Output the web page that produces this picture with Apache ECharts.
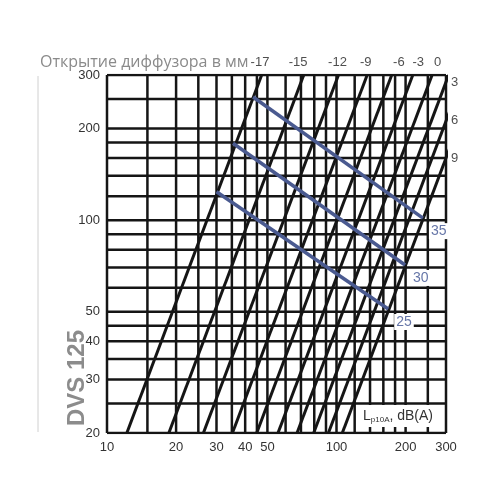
<!DOCTYPE html>
<html>
<head>
<meta charset="utf-8">
<script src="https://cdn.jsdelivr.net/npm/echarts@6/dist/echarts.min.js"></script>
<style>
  html, body { margin: 0; background: #fff; }
  #dvs-chart { width: 500px; height: 500px; }
</style>
</head>
<body>
<div id="dvs-chart"></div>
<script>
// оси (лог. шкала)
const xTicks = [10, 20, 30, 40, 50, 100, 200, 300]
const yTicks = [20, 30, 40, 50, 100, 200, 300]
const gridX = [10, 15, 20, 25, 30, 35, 40, 45, 50, 60, 70, 80, 90, 100, 120, 140, 160, 180, 200, 250, 300]
const gridY = [20, 25, 30, 35, 40, 45, 50, 60, 70, 80, 90, 100, 120, 140, 160, 180, 200, 250, 300]

// открытие диффузора, мм: расход при 20 Па и при 300 Па
const openings = ['-17', '-15', '-12', '-9', '-6', '-3', '0', '3', '6', '9']
const flowAtBottom = [12.2, 18.6, 26.3, 35.2, 44.9, 55.6, 67.3, 79.5, 92.2, 106]
const flowAtTop = [47.2, 72, 102, 136, 174, 215, 261, 308, 357, 411]

// подписи открытия: сверху (x при 300 Па) и справа (y при 300 м3/ч)
const topLabels = ['-17', '-15', '-12', '-9', '-6', '-3', '0']
const topLabelX = [46.4, 68, 101, 134, 187, 227, 276]
const rightLabels = ['3', '6', '9']
const rightLabelY = [284, 212, 160]

// шум Lp10A
const noiseLevels = ['25', '30', '35']
const noiseStart = [[30.0, 124], [35.4, 179], [43.3, 254]]
const noiseEnd = [[168, 51.1], [199, 71.3], [238, 101.6]]

const chart = echarts.init(document.getElementById('dvs-chart'))
const black = '#151515'
const font = 'Liberation Sans, Arial, sans-serif'

const series = []
gridX.forEach(v => {
  series.push({
    type: 'line', silent: true, symbol: 'none', z: 2,
    data: [[v, 20], [v, 300]],
    lineStyle: { color: black, width: 2.5 }
  })
})
gridY.forEach(v => {
  series.push({
    type: 'line', silent: true, symbol: 'none', z: 2,
    data: [[10, v], [300, v]],
    lineStyle: { color: black, width: 2.5 }
  })
})
openings.forEach((name, i) => {
  series.push({
    name: name, type: 'line', silent: true, symbol: 'none', z: 3, clip: true,
    data: [[flowAtBottom[i], 20], [flowAtTop[i], 300]],
    lineStyle: { color: black, width: 3 }
  })
})
noiseLevels.forEach((name, i) => {
  series.push({
    name: name, type: 'line', silent: true, symbol: 'none', z: 5,
    data: [noiseStart[i], noiseEnd[i]],
    lineStyle: { color: '#4a5a90', width: 3.5 },
    endLabel: {
      show: true,
      formatter: name,
      color: '#6676a8',
      fontSize: 14,
      fontFamily: font,
      backgroundColor: '#fff',
      padding: [1, 2],
      offset: [-2, 13]
    }
  })
})
// подписи открытия
series.push({
  type: 'scatter', silent: true, symbolSize: 0, z: 6,
  data: topLabelX.map((x, i) => ({ value: [x, 300], name: topLabels[i] })),
  label: { show: true, position: 'top', distance: 6, formatter: '{b}', color: '#222', fontSize: 13, fontFamily: font }
})
series.push({
  type: 'scatter', silent: true, symbolSize: 0, z: 6,
  data: rightLabelY.map((y, i) => ({ value: [300, y], name: rightLabels[i] })),
  label: { show: true, position: 'right', distance: 5, formatter: '{b}', color: '#222', fontSize: 13, fontFamily: font }
})

const option = {
  animation: false,
  grid: { left: 107, right: 54, top: 75, bottom: 67 },
  xAxis: {
    type: 'log', logBase: 10, min: 10, max: 300,
    axisLine: { show: false },
    axisTick: { show: false },
    splitLine: { show: false },
    axisLabel: { customValues: xTicks, color: '#333', fontSize: 13, margin: 8, fontFamily: font }
  },
  yAxis: {
    type: 'log', logBase: 10, min: 20, max: 300,
    axisLine: { show: false },
    axisTick: { show: false },
    splitLine: { show: false },
    axisLabel: { customValues: yTicks, color: '#333', fontSize: 13, margin: 7, fontFamily: font }
  },
  graphic: [
    {
      type: 'text', left: 40, top: 54, z: 100,
      style: { text: 'Открытие диффузора в мм', fill: '#8a8a8a', fontSize: 16, fontFamily: 'Open Sans, sans-serif' }
    },
    {
      type: 'line', z: 100,
      shape: { x1: 38, y1: 76, x2: 38, y2: 432 },
      style: { stroke: '#d0d0d0', lineWidth: 1 }
    },
    {
      type: 'text', x: 77, y: 378, rotation: Math.PI / 2, z: 100,
      style: { text: 'DVS 125', fill: '#8c8c8c', fontSize: 24, fontWeight: 'bold', fontFamily: font, align: 'center', verticalAlign: 'middle' }
    },
    {
      type: 'rect', z: 100,
      shape: { x: 357, y: 405, width: 87, height: 22 },
      style: { fill: '#fff' }
    },
    {
      type: 'text', x: 363, y: 416, z: 101,
      style: {
        text: '{l|L}{s|p10A}{l|, dB(A)}',
        verticalAlign: 'middle',
        rich: {
          l: { fontSize: 14, fill: '#333', fontFamily: font },
          s: { fontSize: 8, fill: '#333', fontFamily: font, padding: [8, 0, 0, 0] }
        }
      }
    }
  ],
  series: series
}
chart.setOption(option)
</script>
</body>
</html>
